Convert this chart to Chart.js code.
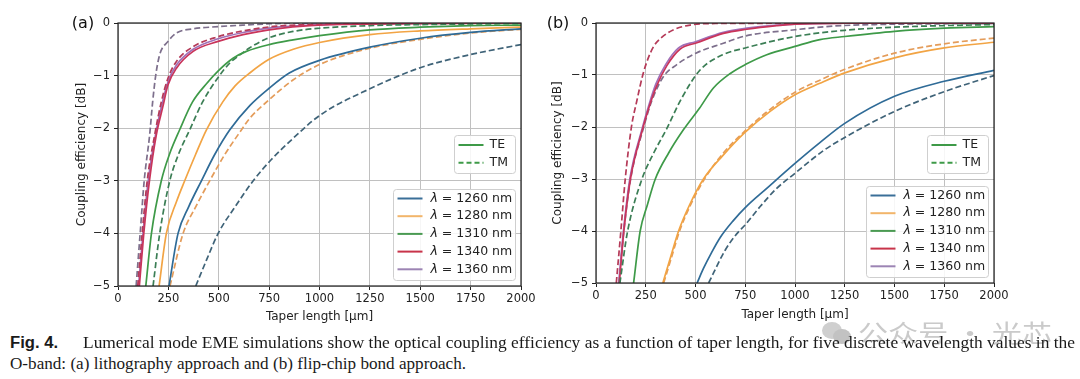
<!DOCTYPE html>
<html><head><meta charset="utf-8">
<script src="https://cdn.jsdelivr.net/npm/chart.js@4.4.1/dist/chart.umd.min.js"></script>
<style>
html,body{margin:0;padding:0;background:#fff;width:1080px;height:379px;overflow:hidden;position:relative}
canvas{position:absolute;top:0}
#ca{left:0}
#cb{left:540px}
.cap{position:absolute;white-space:nowrap;font-family:"Liberation Serif","DejaVu Serif",serif;font-size:16.5px;line-height:20px;color:#1a1a1a;transform-origin:0 50%}
.capb{position:absolute;white-space:nowrap;font-family:"Liberation Sans","DejaVu Sans",sans-serif;font-weight:bold;font-size:16px;line-height:20px;color:#1a1a1a;transform-origin:0 50%}
#wm{position:absolute;white-space:nowrap;font-family:"Noto Sans CJK SC",sans-serif;font-size:24px;line-height:28px;color:#cacaca;transform-origin:0 50%}
.ic{position:absolute;border-radius:50%;background:#cfcfcf}
</style></head>
<body>
<canvas id="ca" width="540" height="325"></canvas>
<canvas id="cb" width="540" height="325"></canvas>
<div class="ic" style="left:822px;top:322px;width:20px;height:17px"></div>
<div class="ic" style="left:833px;top:329px;width:18px;height:15px;background:#c2c2c2"></div>
<div id="wm" style="left:858px;top:318px">公众号 · 光芯</div>
<div id="capb" class="capb" style="left:10px;top:333px">Fig. 4.</div>
<div id="cap1" class="cap" style="left:83px;top:333px">Lumerical mode EME simulations show the optical coupling efficiency as a function of taper length, for five discrete wavelength values in the</div>
<div id="cap2" class="cap" style="left:10px;top:354px">O-band: (a) lithography approach and (b) flip-chip bond approach.</div>
<script>
// ---------- data ----------
const WAVELENGTHS = [1260, 1280, 1310, 1340, 1360];
const POLARIZATIONS = ['TE', 'TM'];
const X_TICKS = [0, 250, 500, 750, 1000, 1250, 1500, 1750, 2000];
const Y_TICKS = [-5, -4, -3, -2, -1, 0];

// panel (a) lithography approach: [taper length µm, coupling efficiency dB]
const a_TE_1260 = [[253,-5],[298,-4],[350,-3.5],[414,-3],[480,-2.5],[555,-2.03],[654,-1.57],[750,-1.24],[850,-0.95],[1000,-0.71],[1250,-0.46],[1500,-0.29],[1750,-0.18],[2000,-0.11]];
const a_TM_1260 = [[386,-5],[440,-4.5],[497,-4],[580,-3.5],[671,-3],[760,-2.6],[853,-2.25],[1000,-1.76],[1250,-1.25],[1500,-0.85],[1750,-0.6],[2000,-0.41]];
const a_TE_1280 = [[204,-5],[240,-4],[290,-3.4],[331,-3],[385,-2.5],[439,-2.03],[520,-1.5],[580,-1.2],[654,-0.95],[750,-0.69],[870,-0.5],[1000,-0.37],[1250,-0.22],[1500,-0.15],[1750,-0.11],[2000,-0.08]];
const a_TM_1280 = [[258,-5],[323,-4],[385,-3.5],[455,-3],[530,-2.5],[613,-2.03],[654,-1.81],[750,-1.46],[870,-1.08],[1000,-0.79],[1250,-0.48],[1500,-0.31],[1750,-0.19],[2000,-0.12]];
const a_TE_1310 = [[138,-5],[166,-4],[215,-3],[255,-2.5],[306,-2.03],[370,-1.5],[440,-1.15],[500,-0.9],[571,-0.67],[637,-0.54],[750,-0.41],[869,-0.32],[1000,-0.24],[1250,-0.13],[1500,-0.08],[1750,-0.05],[2000,-0.04]];
const a_TM_1310 = [[174,-5],[207,-4],[257,-3],[300,-2.5],[356,-2.03],[420,-1.5],[500,-1.02],[555,-0.76],[600,-0.62],[650,-0.48],[737,-0.3],[869,-0.16],[1000,-0.1],[1250,-0.05],[1500,-0.03],[2000,-0.01]];
const a_TE_1340 = [[106,-5],[128,-4],[156,-3],[190,-2.13],[222,-1.6],[248,-1.18],[290,-0.86],[373,-0.54],[497,-0.35],[621,-0.22],[787,-0.11],[952,-0.05],[1250,-0.02],[1500,-0.01],[2000,0]];
const a_TM_1340 = [[98,-5],[120,-4],[145,-3],[182,-2.13],[215,-1.5],[248,-1.05],[290,-0.73],[373,-0.45],[497,-0.26],[621,-0.15],[787,-0.06],[952,-0.03],[1250,-0.01],[2000,0]];
const a_TE_1360 = [[102,-5],[124,-4],[150,-3],[186,-2.13],[218,-1.55],[248,-1.12],[290,-0.8],[373,-0.5],[497,-0.3],[621,-0.18],[787,-0.08],[952,-0.04],[1250,-0.01],[2000,0]];
const a_TM_1360 = [[90,-5],[110,-4],[130,-3],[157,-2.13],[172,-1.5],[187,-1.0],[207,-0.6],[248,-0.35],[290,-0.19],[373,-0.11],[455,-0.08],[621,-0.04],[787,-0.01],[1000,0],[2000,0]];

// panel (b) flip-chip bond approach
const b_TE_1260 = [[508,-5],[540,-4.72],[580,-4.42],[625,-4.12],[690,-3.8],[750,-3.55],[858,-3.18],[1000,-2.7],[1125,-2.3],[1250,-1.93],[1500,-1.41],[1750,-1.12],[2000,-0.91]];
const b_TM_1260 = [[566,-5],[649,-4.37],[708,-4.05],[750,-3.88],[825,-3.53],[908,-3.18],[1000,-2.89],[1141,-2.46],[1250,-2.2],[1500,-1.7],[1750,-1.32],[2000,-1.01]];
const b_TE_1280 = [[336,-5],[375,-4.5],[415,-4],[470,-3.5],[540,-3],[637,-2.55],[750,-2.1],[875,-1.7],[1000,-1.38],[1125,-1.16],[1250,-0.96],[1500,-0.67],[1750,-0.48],[2000,-0.37]];
const b_TM_1280 = [[340,-5],[380,-4.5],[420,-4],[475,-3.5],[545,-3],[640,-2.5],[750,-2.07],[875,-1.66],[1000,-1.33],[1125,-1.1],[1250,-0.89],[1500,-0.58],[1750,-0.4],[2000,-0.29]];
const b_TE_1310 = [[189,-5],[222,-4],[258,-3.5],[298,-3],[365,-2.5],[440,-2.05],[520,-1.64],[590,-1.25],[675,-0.97],[750,-0.8],[858,-0.61],[1000,-0.45],[1125,-0.32],[1250,-0.26],[1500,-0.16],[1750,-0.1],[2000,-0.07]];
const b_TM_1310 = [[120,-5],[159,-4],[231,-3],[290,-2.5],[353,-2.05],[430,-1.45],[524,-0.9],[637,-0.61],[750,-0.48],[1000,-0.26],[1250,-0.14],[1500,-0.08],[1750,-0.05],[2000,-0.03]];
const b_TE_1340 = [[117,-5],[140,-4],[173,-3],[235,-2.03],[268,-1.6],[306,-1.2],[356,-0.82],[423,-0.5],[507,-0.38],[640,-0.2],[758,-0.12],[908,-0.05],[1000,-0.02],[1250,-0.005],[2000,0]];
const b_TM_1340 = [[102,-5],[125,-4],[147,-3],[178,-2],[205,-1.5],[235,-1.0],[260,-0.7],[290,-0.45],[323,-0.3],[390,-0.13],[473,-0.04],[600,-0.01],[2000,0]];
const b_TE_1360 = [[114,-5],[138,-4],[170,-3],[232,-2.03],[264,-1.6],[300,-1.18],[350,-0.8],[415,-0.48],[500,-0.36],[640,-0.18],[758,-0.1],[908,-0.04],[1000,-0.02],[1250,-0.005],[2000,0]];
const b_TM_1360 = [[116,-5],[140,-4],[174,-3],[240,-2],[280,-1.5],[339,-1.03],[406,-0.8],[502,-0.58],[640,-0.39],[750,-0.25],[1000,-0.13],[1190,-0.06],[1400,-0.03],[2000,-0.01]];

const SERIES_A = {TE:[a_TE_1260,a_TE_1280,a_TE_1310,a_TE_1340,a_TE_1360], TM:[a_TM_1260,a_TM_1280,a_TM_1310,a_TM_1340,a_TM_1360]};
const SERIES_B = {TE:[b_TE_1260,b_TE_1280,b_TE_1310,b_TE_1340,b_TE_1360], TM:[b_TM_1260,b_TM_1280,b_TM_1310,b_TM_1340,b_TM_1360]};

// ---------- styles ----------
const TE_COLORS = ['#2f6b97','#f2a444','#3e9a48','#c9345a','#a070b8'];
const TM_COLORS = ['#3f6378','#e49c5a','#3b7e55','#b53a58','#7d6f8c'];
const LEG_COLORS = ['#3a6f98','#f2b56a','#4a9a52','#c8344a','#9c84b4'];
const FONT = '"DejaVu Sans", Verdana, sans-serif';

function buildDatasets(S){
  const ds = [];
  WAVELENGTHS.forEach((w,i)=>{
    POLARIZATIONS.forEach(p=>{
      ds.push({
        label: 'λ = '+w+' nm '+p,
        data: S[p][i].map(([x,y])=>({x,y})),
        borderColor: p==='TE'?TE_COLORS[i]:TM_COLORS[i],
        borderWidth: 1.7,
        borderDash: p==='TE'?[]:[6,3],
        pointRadius: 0,
        fill: false,
        cubicInterpolationMode: 'monotone'
      });
    });
  });
  return ds;
}

function drawLegends(chart, o){
  const ctx = chart.ctx, a = chart.chartArea;
  const box = (x,y,w,h)=>{
    ctx.save();
    ctx.fillStyle='rgba(255,255,255,0.85)';
    ctx.strokeStyle='#cfcfcf'; ctx.lineWidth=1;
    ctx.beginPath(); ctx.roundRect(Math.round(x)+0.5,Math.round(y)+0.5,w,h,3); ctx.fill(); ctx.stroke();
    ctx.restore();
  };
  const sample = (x,y,col,dash)=>{
    ctx.save(); ctx.strokeStyle=col; ctx.lineWidth=2; ctx.setLineDash(dash);
    ctx.beginPath(); ctx.moveTo(x,y); ctx.lineTo(x+25,y); ctx.stroke(); ctx.restore();
  };
  ctx.save();
  ctx.textBaseline='middle'; ctx.fillStyle='#222';
  const w1=61,h1=38, x1=a.right-6.5-w1, y1=a.top+112;
  box(x1,y1,w1,h1);
  POLARIZATIONS.forEach((p,k)=>{
    const y=y1+10+k*17.7;
    sample(x1+5,y,'#3e9a48',k?[5,3]:[]);
    ctx.font='12.5px '+FONT; ctx.fillStyle='#222';
    ctx.fillText(p,x1+36,y);
  });
  const w2=122,h2=91, x2=a.right-6.5-w2, y2=a.bottom-6.5-h2;
  box(x2,y2,w2,h2);
  WAVELENGTHS.forEach((w,k)=>{
    const y=y2+10+k*17.7;
    sample(x2+5,y,LEG_COLORS[k],[]);
    ctx.fillStyle='#222';
    ctx.font='italic 12.5px '+FONT;
    ctx.fillText('λ',x2+38,y);
    const lw=ctx.measureText('λ').width;
    ctx.font='12.5px '+FONT;
    ctx.fillText(' = '+w+' nm',x2+38+lw,y);
  });
  ctx.font='16px '+FONT; ctx.textAlign='center'; ctx.fillStyle='#111';
  ctx.fillText(o.label,o.labelX,24);
  ctx.restore();
}

const decor = {
  id:'decor',
  afterDatasetsDraw(chart){
    const {ctx, chartArea:a} = chart;
    ctx.save(); ctx.strokeStyle='#1e1e1e'; ctx.lineWidth=1.2;
    ctx.strokeRect(a.left,a.top,a.right-a.left,a.bottom-a.top); ctx.restore();
  },
  afterDraw(chart, args, opts){ drawLegends(chart, opts); }
};

function makeChart(id, S, g){
  return new Chart(document.getElementById(id), {
    type:'line',
    data:{datasets: buildDatasets(S)},
    plugins:[decor],
    options:{
      responsive:false, animation:false, events:[],
      layout:{padding:{left:0,top:g.padTop,right:g.padRight,bottom:0}},
      plugins:{legend:{display:false}, tooltip:{enabled:false}, decor:{label:g.label,labelX:g.labelX}},
      scales:{
        x:{type:'linear', min:0, max:2000,
          afterBuildTicks(s){ s.ticks = X_TICKS.map(v=>({value:v})); },
          afterFit(s){ s.height = g.xH; },
          grid:{color:'#c0c0c0', lineWidth:1, tickLength:4, tickColor:'#222', drawTicks:true},
          border:{display:false},
          ticks:{font:{family:FONT,size:11.5}, color:'#222', padding:2, maxRotation:0, autoSkip:false,
            callback:v=>String(v)},
          title:{display:true, text:'Taper length [μm]', font:{family:FONT,size:12}, color:'#222', padding:{top:0,bottom:g.xTitlePad}}
        },
        y:{type:'linear', min:-5, max:0,
          afterBuildTicks(s){ s.ticks = Y_TICKS.map(v=>({value:v})); },
          afterFit(s){ s.width = g.yW; },
          grid:{color:'#c0c0c0', lineWidth:1, tickLength:4, tickColor:'#222', drawTicks:true},
          border:{display:false},
          ticks:{font:{family:FONT,size:11.5}, color:'#222', padding:4,
            callback:v=> v<0 ? '\u2212'+Math.abs(v) : String(v)},
          title:{display:true, text:'Coupling efficiency [dB]', font:{family:FONT,size:12}, color:'#222', padding:{top:g.yTitlePad,bottom:0}}
        }
      }
    }
  });
}

makeChart('ca', SERIES_A, {padTop:23, padRight:19, xH:39, yW:118, xTitlePad:1, yTitlePad:75, label:'(a)', labelX:83});
makeChart('cb', SERIES_B, {padTop:23, padRight:86, xH:42, yW:56, xTitlePad:3, yTitlePad:11, label:'(b)', labelX:18});

function fit(id, w){
  const el=document.getElementById(id);
  const cw=el.getBoundingClientRect().width;
  el.style.transform='scaleX('+(w/cw)+')';
}
fit('capb',48); fit('cap1',992); fit('cap2',456); fit('wm',194);
</script>
</body></html>
